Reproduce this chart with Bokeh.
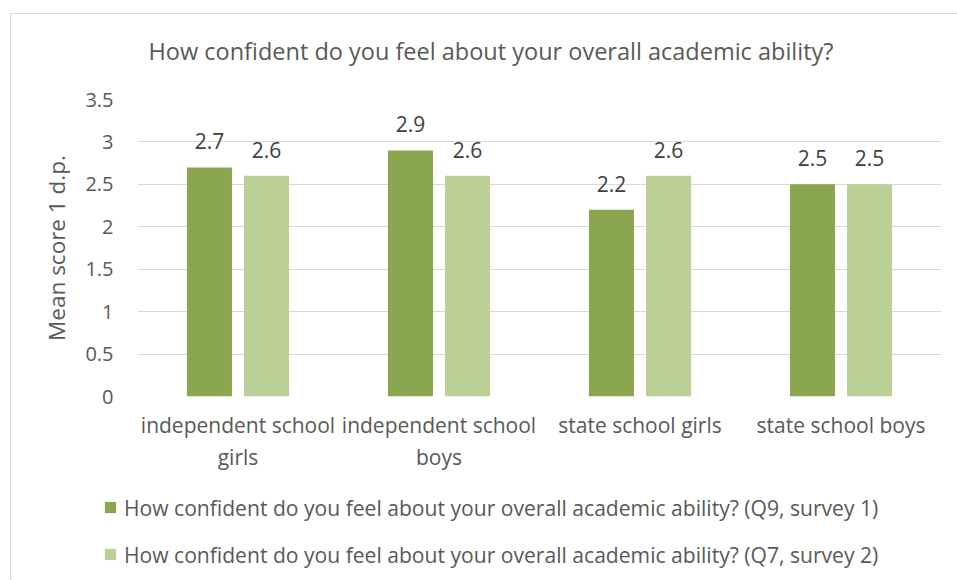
from bokeh.plotting import figure
from bokeh.layouts import column
from bokeh.models import (Range1d, ColumnDataSource, Legend, LegendItem,
                          FixedTicker, LinearAxis, Label)
from bokeh.transform import dodge
from bokeh.embed import file_html
from bokeh.resources import INLINE
from bokeh.core.properties import value

categories = ["independent school girls", "independent school boys",
              "state school girls", "state school boys"]
cat_line1 = ["independent school", "independent school",
             "state school girls", "state school boys"]
cat_line2 = ["girls", "boys"]
survey1 = [2.7, 2.9, 2.2, 2.5]
survey2 = [2.6, 2.6, 2.6, 2.5]
series_names = ["How confident do you feel about your overall academic ability? (Q9, survey 1)",
                "How confident do you feel about your overall academic ability? (Q7, survey 2)"]
title_text = "How confident do you feel about your overall academic ability?"
y_ticks = [0, 0.5, 1, 1.5, 2, 2.5, 3, 3.5]
y_tick_labels = ["0", "0.5", "1", "1.5", "2", "2.5", "3", "3.5"]

FONT = "Open Sans"
TXT = "#595959"
DARK = "#8AA64E"
LIGHT = "#BAD096"
GRID = "#D9D9D9"
W = 946


def blank_panel(height):
    f = figure(width=W, height=height, x_range=Range1d(0, W), y_range=Range1d(0, height),
               toolbar_location=None, output_backend="svg",
               x_axis_location=None, y_axis_location=None, min_border=0)
    f.outline_line_color = None
    f.xgrid.grid_line_color = None
    f.ygrid.grid_line_color = None
    return f


pos = list(range(1, len(categories) + 1))
src = ColumnDataSource(dict(
    pos=pos, s1=survey1, s2=survey2,
    l1=[f"{v:.1f}" for v in survey1], l2=[f"{v:.1f}" for v in survey2],
))

# ---- title panel
pt = blank_panel(65)
pt.add_layout(Label(x=137, y=29, text=title_text, text_font=FONT, text_font_size="23.5px",
                    text_color=TXT, text_align="left", text_baseline="middle"))

# ---- main chart
p = figure(width=W, height=401, x_range=Range1d(0.5, len(categories) + 0.5),
           y_range=Range1d(0, 3.5), toolbar_location=None, output_backend="svg",
           min_border_left=126, min_border_right=16, min_border_top=20, min_border_bottom=84)
p.outline_line_color = None

p.vbar(x=dodge("pos", -0.142), top="s1", width=0.224, source=src,
       fill_color=DARK, line_color=None)
p.vbar(x=dodge("pos", 0.142), top="s2", width=0.224, source=src,
       fill_color=LIGHT, line_color=None)

for col, lab, off in (("s1", "l1", -0.142), ("s2", "l2", 0.142)):
    p.text(x=dodge("pos", off), y=col, text=lab, source=src,
           text_align="center", text_baseline="middle", y_offset=-26,
           text_font=value(FONT), text_font_size="21px", text_color="#404040")

# y axis
p.yaxis.ticker = FixedTicker(ticks=y_ticks)
p.yaxis.major_label_overrides = {t: l for t, l in zip(y_ticks, y_tick_labels)}
p.yaxis.axis_line_color = None
p.yaxis.major_tick_line_color = None
p.yaxis.minor_tick_line_color = None
p.yaxis.major_tick_out = 0
p.yaxis.major_label_standoff = 24
p.yaxis.major_label_text_font = FONT
p.yaxis.major_label_text_font_size = "20px"
p.yaxis.major_label_text_color = TXT
p.yaxis.axis_label = "Mean score 1 d.p."
p.yaxis.axis_label_text_font = FONT
p.yaxis.axis_label_text_font_style = "normal"
p.yaxis.axis_label_text_font_size = "22.5px"
p.yaxis.axis_label_text_color = TXT
p.yaxis.axis_label_standoff = 10

# x axis: first line of the category labels, second axis for the second line
xa = p.xaxis[0]
xa.ticker = FixedTicker(ticks=pos)
xa.major_label_overrides = {i: l for i, l in zip(pos, cat_line1)}
xa2 = LinearAxis(ticker=FixedTicker(ticks=pos[:len(cat_line2)]),
                 major_label_overrides={i: l for i, l in zip(pos, cat_line2)})
p.add_layout(xa2, "below")
for ax, so in ((xa, 14), (xa2, 1)):
    ax.axis_line_color = None
    ax.major_tick_line_color = None
    ax.minor_tick_line_color = None
    ax.major_tick_out = 0
    ax.major_tick_in = 0
    ax.major_label_standoff = so
    ax.major_label_text_font = FONT
    ax.major_label_text_font_size = "21px"
    ax.major_label_text_color = TXT

p.xgrid.grid_line_color = None
p.ygrid.grid_line_color = GRID
p.ygrid.ticker = FixedTicker(ticks=y_ticks)

# ---- legend panel
pl = blank_panel(100)
# off-screen swatch renderers for the legend entries
d1 = pl.vbar(x=[-5000], top=[1], width=1, fill_color=DARK, line_color=None)
d2 = pl.vbar(x=[-5000], top=[1], width=1, fill_color=LIGHT, line_color=None)
legend = Legend(items=[LegendItem(label=series_names[0], renderers=[d1]),
                       LegendItem(label=series_names[1], renderers=[d2])],
                location=(92, 11.5), orientation="vertical",
                glyph_width=14, glyph_height=14, label_height=20, spacing=18,
                label_standoff=7, padding=0, margin=0,
                label_text_font=FONT, label_text_font_size="21.1px", label_text_color=TXT,
                border_line_color=None, background_fill_alpha=0)
pl.add_layout(legend, "center")

for fig in (pt, p, pl):
    if "frame_align" in fig.properties():
        fig.frame_align = False

layout = column(pt, p, pl, spacing=0)
layout.styles = {"margin-left": "10px", "margin-top": "13px", "border": "1px solid #D9D9D9"}
open("out.html", "w").write(file_html(layout, INLINE))
